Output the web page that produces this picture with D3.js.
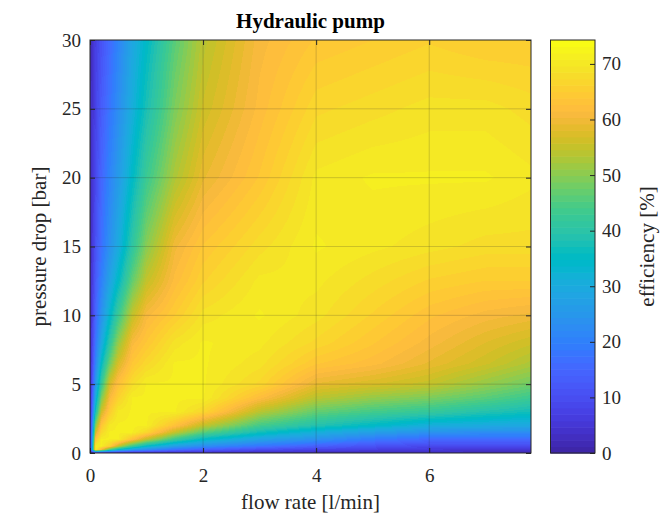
<!DOCTYPE html>
<html>
<head>
<meta charset="utf-8">
<script src="https://cdn.jsdelivr.net/npm/d3@7"></script>
<style>
  html, body { margin: 0; padding: 0; background: #fff; }
  svg { display: block; font-family: "Liberation Serif", "Times New Roman", serif; }
  svg text { font-family: "Liberation Serif", "Times New Roman", serif; }
</style>
</head>
<body>
<svg id="chart" width="661" height="519"></svg>
<script>
// Measurement grid: flow rate [l/min] and pressure drop [bar]
const flowRates = [0, 0.1, 0.2, 0.35, 0.5, 0.75, 1, 1.5, 2, 3, 4, 5, 6, 7, 7.8];
const pressures = [0, 0.25, 0.5, 1, 1.5, 2, 3, 4, 5, 6.5, 8, 10, 12.5, 15, 20, 25, 30];

// Efficiency [%] — one row per flow rate, one entry per pressure drop
const effQ0    = [0, 2, 2, 2, 2, 2, 2, 2, 2, 2, 2, 2, 2, 2, 2, 2, 2];
const effQ0_1  = [2, 71, 71, 64, 57, 50, 38, 31, 26, 21, 18, 15, 13, 11, 9, 8, 7];
const effQ0_2  = [2, 61, 71, 71, 67, 64, 56, 49, 42, 35, 29, 24, 20, 17, 15, 13, 11];
const effQ0_35 = [2, 45, 66, 71, 71, 70, 65, 61, 57, 48, 41, 34, 28, 24, 21, 18, 16];
const effQ0_5  = [2, 35, 55, 71, 71, 71, 70, 66, 63, 57, 51, 43, 35, 30, 26, 23, 21];
const effQ0_75 = [2, 27, 43, 63, 71, 71, 71, 71, 68, 64, 61, 55, 47, 41, 35, 31, 29];
const effQ1    = [2, 23, 35, 55, 67, 71, 71, 71, 71, 67, 64, 61, 55, 50, 43, 38, 35];
const effQ1_5  = [2, 17, 27, 43, 55, 63, 71, 71, 71, 71, 69, 65, 62, 60, 53, 49, 46];
const effQ2    = [2, 14, 23, 35, 46, 55, 67, 71, 71, 71, 71, 69, 66, 64, 59, 56, 54];
const effQ3    = [2, 10, 18, 28, 37, 44, 54, 62, 67, 69, 70, 71, 70, 68, 64, 62, 61];
const effQ4    = [2, 8, 14, 24, 31, 39, 47, 54, 59, 64, 67, 69, 70, 71, 70, 67, 64];
const effQ5    = [2, 7, 11, 19, 27, 35, 44, 51, 57, 62, 64, 66, 68, 70, 71, 68, 65];
const effQ6    = [2, 6, 9, 16, 24, 31, 42, 49, 55, 59, 61, 63, 66, 69, 71, 69, 66];
const effQ7    = [2, 5, 9, 16, 23, 30, 39, 46, 51, 56, 58, 61, 65, 68, 71, 69, 65];
const effQ7_8  = [2, 5, 9, 16, 23, 29, 37, 43, 48, 53, 56, 60, 65, 68, 70, 68, 65];
const efficiency = [effQ0, effQ0_1, effQ0_2, effQ0_35, effQ0_5, effQ0_75, effQ1, effQ1_5,
                    effQ2, effQ3, effQ4, effQ5, effQ6, effQ7, effQ7_8];

// Axis ticks
const flowTicks = [0, 2, 4, 6];
const pressureTicks = [0, 5, 10, 15, 20, 25, 30];
const effTicks = [0, 10, 20, 30, 40, 50, 60, 70];
const effLimits = [0, 74.3];

// Parula colormap (64 entries)
const parula = [
[0.2422,0.1504,0.6603],[0.2504,0.1650,0.7076],[0.2578,0.1818,0.7511],[0.2647,0.1978,0.7952],
[0.2706,0.2147,0.8364],[0.2751,0.2342,0.8710],[0.2783,0.2559,0.8991],[0.2803,0.2782,0.9221],
[0.2813,0.3006,0.9414],[0.2810,0.3228,0.9579],[0.2795,0.3447,0.9717],[0.2760,0.3667,0.9829],
[0.2699,0.3892,0.9906],[0.2602,0.4123,0.9952],[0.2440,0.4358,0.9988],[0.2206,0.4603,0.9973],
[0.1963,0.4847,0.9892],[0.1834,0.5074,0.9798],[0.1786,0.5289,0.9682],[0.1764,0.5499,0.9520],
[0.1687,0.5703,0.9359],[0.1540,0.5902,0.9218],[0.1460,0.6091,0.9079],[0.1380,0.6276,0.8973],
[0.1248,0.6459,0.8883],[0.1113,0.6635,0.8763],[0.0952,0.6798,0.8598],[0.0689,0.6948,0.8394],
[0.0297,0.7082,0.8163],[0.0036,0.7203,0.7917],[0.0067,0.7312,0.7660],[0.0433,0.7411,0.7394],
[0.0964,0.7500,0.7120],[0.1408,0.7584,0.6842],[0.1717,0.7670,0.6554],[0.1938,0.7758,0.6251],
[0.2161,0.7843,0.5923],[0.2470,0.7918,0.5567],[0.2906,0.7973,0.5188],[0.3406,0.8008,0.4789],
[0.3909,0.8029,0.4354],[0.4456,0.8024,0.3909],[0.5044,0.7993,0.3480],[0.5616,0.7942,0.3045],
[0.6174,0.7876,0.2612],[0.6720,0.7793,0.2227],[0.7242,0.7698,0.1910],[0.7738,0.7598,0.1646],
[0.8203,0.7498,0.1535],[0.8634,0.7406,0.1596],[0.9035,0.7330,0.1774],[0.9393,0.7288,0.2100],
[0.9728,0.7298,0.2394],[0.9956,0.7434,0.2371],[0.9970,0.7659,0.2199],[0.9952,0.7893,0.2028],
[0.9892,0.8136,0.1885],[0.9786,0.8386,0.1766],[0.9676,0.8639,0.1643],[0.9610,0.8890,0.1537],
[0.9597,0.9135,0.1423],[0.9628,0.9373,0.1265],[0.9691,0.9606,0.1064],[0.9769,0.9839,0.0805]
].map(c => d3.rgb(c[0] * 255, c[1] * 255, c[2] * 255));

const box = { left: 90, right: 531, top: 40, bottom: 453 };
const cbar = { left: 550.5, right: 595, top: 40, bottom: 453 };
const ink = "#262626";
const serif = '"Liberation Serif", "Times New Roman", serif';

const svg = d3.select("#chart");
const x = d3.scaleLinear().domain([0, 7.8]).range([box.left, box.right]);
const y = d3.scaleLinear().domain([0, 30]).range([box.bottom, box.top]);
const color = d3.scaleQuantize().domain(effLimits).range(parula);

// Bilinear lookup in the (flow, pressure) grid
function efficiencyAt(q, p) {
  const i = Math.max(0, Math.min(flowRates.length - 2, d3.bisectRight(flowRates, q) - 1));
  const j = Math.max(0, Math.min(pressures.length - 2, d3.bisectRight(pressures, p) - 1));
  const tq = Math.max(0, Math.min(1, (q - flowRates[i]) / (flowRates[i + 1] - flowRates[i])));
  const tp = Math.max(0, Math.min(1, (p - pressures[j]) / (pressures[j + 1] - pressures[j])));
  const e = efficiency;
  return (1 - tq) * (1 - tp) * e[i][j] + tq * (1 - tp) * e[i + 1][j]
       + (1 - tq) * tp * e[i][j + 1] + tq * tp * e[i + 1][j + 1];
}

// Shaded efficiency map
const cw = box.right - box.left, ch = box.bottom - box.top;
const canvas = document.createElement("canvas");
canvas.width = cw; canvas.height = ch;
const ctx = canvas.getContext("2d");
const img = ctx.createImageData(cw, ch);
for (let py = 0; py < ch; py++) {
  const p = y.invert(box.top + py + 0.5);
  for (let px = 0; px < cw; px++) {
    const q = x.invert(box.left + px + 0.5);
    const c = color(efficiencyAt(q, p));
    const k = (py * cw + px) * 4;
    img.data[k] = c.r; img.data[k + 1] = c.g; img.data[k + 2] = c.b; img.data[k + 3] = 255;
  }
}
ctx.putImageData(img, 0, 0);
svg.append("image")
  .attr("x", box.left).attr("y", box.top)
  .attr("width", cw).attr("height", ch)
  .attr("preserveAspectRatio", "none")
  .attr("href", canvas.toDataURL());

// Grid
const grid = svg.append("g").attr("stroke", ink).attr("stroke-opacity", 0.2).attr("stroke-width", 1);
grid.selectAll(".gx").data(flowTicks.filter(d => d > 0)).join("line")
  .attr("x1", d => x(d)).attr("x2", d => x(d)).attr("y1", box.top).attr("y2", box.bottom);
grid.selectAll(".gy").data(pressureTicks.filter(d => d > 0 && d < 30)).join("line")
  .attr("y1", d => y(d)).attr("y2", d => y(d)).attr("x1", box.left).attr("x2", box.right);

// Axes with inward ticks on all four sides
function styleAxis(g, showLabels) {
  g.attr("font-family", null).attr("font-size", 19);
  g.select(".domain").remove();
  g.selectAll(".tick line").attr("stroke", ink);
  g.selectAll(".tick text").attr("fill", "#262626").style("font-family", serif);
  if (!showLabels) g.selectAll(".tick text").remove();
}
svg.append("g").attr("transform", `translate(0,${box.bottom})`)
  .call(d3.axisBottom(x).tickValues(flowTicks).tickFormat(d3.format("d")).tickSize(-5).tickPadding(16))
  .call(g => styleAxis(g, true));
svg.append("g").attr("transform", `translate(0,${box.top})`)
  .call(d3.axisTop(x).tickValues(flowTicks).tickSize(-5))
  .call(g => styleAxis(g, false));
svg.append("g").attr("transform", `translate(${box.left},0)`)
  .call(d3.axisLeft(y).tickValues(pressureTicks).tickFormat(d3.format("d")).tickSize(-5).tickPadding(9))
  .call(g => styleAxis(g, true));
svg.append("g").attr("transform", `translate(${box.right},0)`)
  .call(d3.axisRight(y).tickValues(pressureTicks).tickSize(-5))
  .call(g => styleAxis(g, false));

svg.append("rect")
  .attr("x", box.left).attr("y", box.top).attr("width", cw).attr("height", ch)
  .attr("fill", "none").attr("stroke", ink).attr("stroke-width", 1);

// Labels
svg.append("text").attr("x", (box.left + box.right) / 2).attr("y", 28)
  .attr("text-anchor", "middle").attr("font-size", 21).attr("font-weight", "bold").attr("fill", "#000")
  .text("Hydraulic pump");
svg.append("text").attr("x", (box.left + box.right) / 2).attr("y", 509)
  .attr("text-anchor", "middle").attr("font-size", 21).attr("fill", "#262626")
  .text("flow rate [l/min]");
svg.append("text").attr("transform", `translate(46,${(box.top + box.bottom) / 2}) rotate(-90)`)
  .attr("text-anchor", "middle").attr("font-size", 21).attr("fill", "#262626")
  .text("pressure drop [bar]");

// Colorbar
const cy = d3.scaleLinear().domain(effLimits).range([cbar.bottom, cbar.top]);
const step = (effLimits[1] - effLimits[0]) / parula.length;
svg.append("g").selectAll("rect").data(parula).join("rect")
  .attr("x", cbar.left).attr("width", cbar.right - cbar.left)
  .attr("y", (d, i) => cy(effLimits[0] + (i + 1) * step))
  .attr("height", (d, i) => cy(effLimits[0] + i * step) - cy(effLimits[0] + (i + 1) * step) + 0.6)
  .attr("fill", d => d);
svg.append("g").attr("transform", `translate(${cbar.right},0)`)
  .call(d3.axisRight(cy).tickValues(effTicks).tickFormat(d3.format("d")).tickSize(-5).tickPadding(7))
  .call(g => styleAxis(g, true));
svg.append("rect")
  .attr("x", cbar.left).attr("y", cbar.top).attr("width", cbar.right - cbar.left).attr("height", cbar.bottom - cbar.top)
  .attr("fill", "none").attr("stroke", ink).attr("stroke-width", 1);
svg.append("text").attr("transform", `translate(654,${(cbar.top + cbar.bottom) / 2}) rotate(-90)`)
  .attr("text-anchor", "middle").attr("font-size", 21).attr("fill", "#262626")
  .text("efficiency [%]");
</script>
</body>
</html>
